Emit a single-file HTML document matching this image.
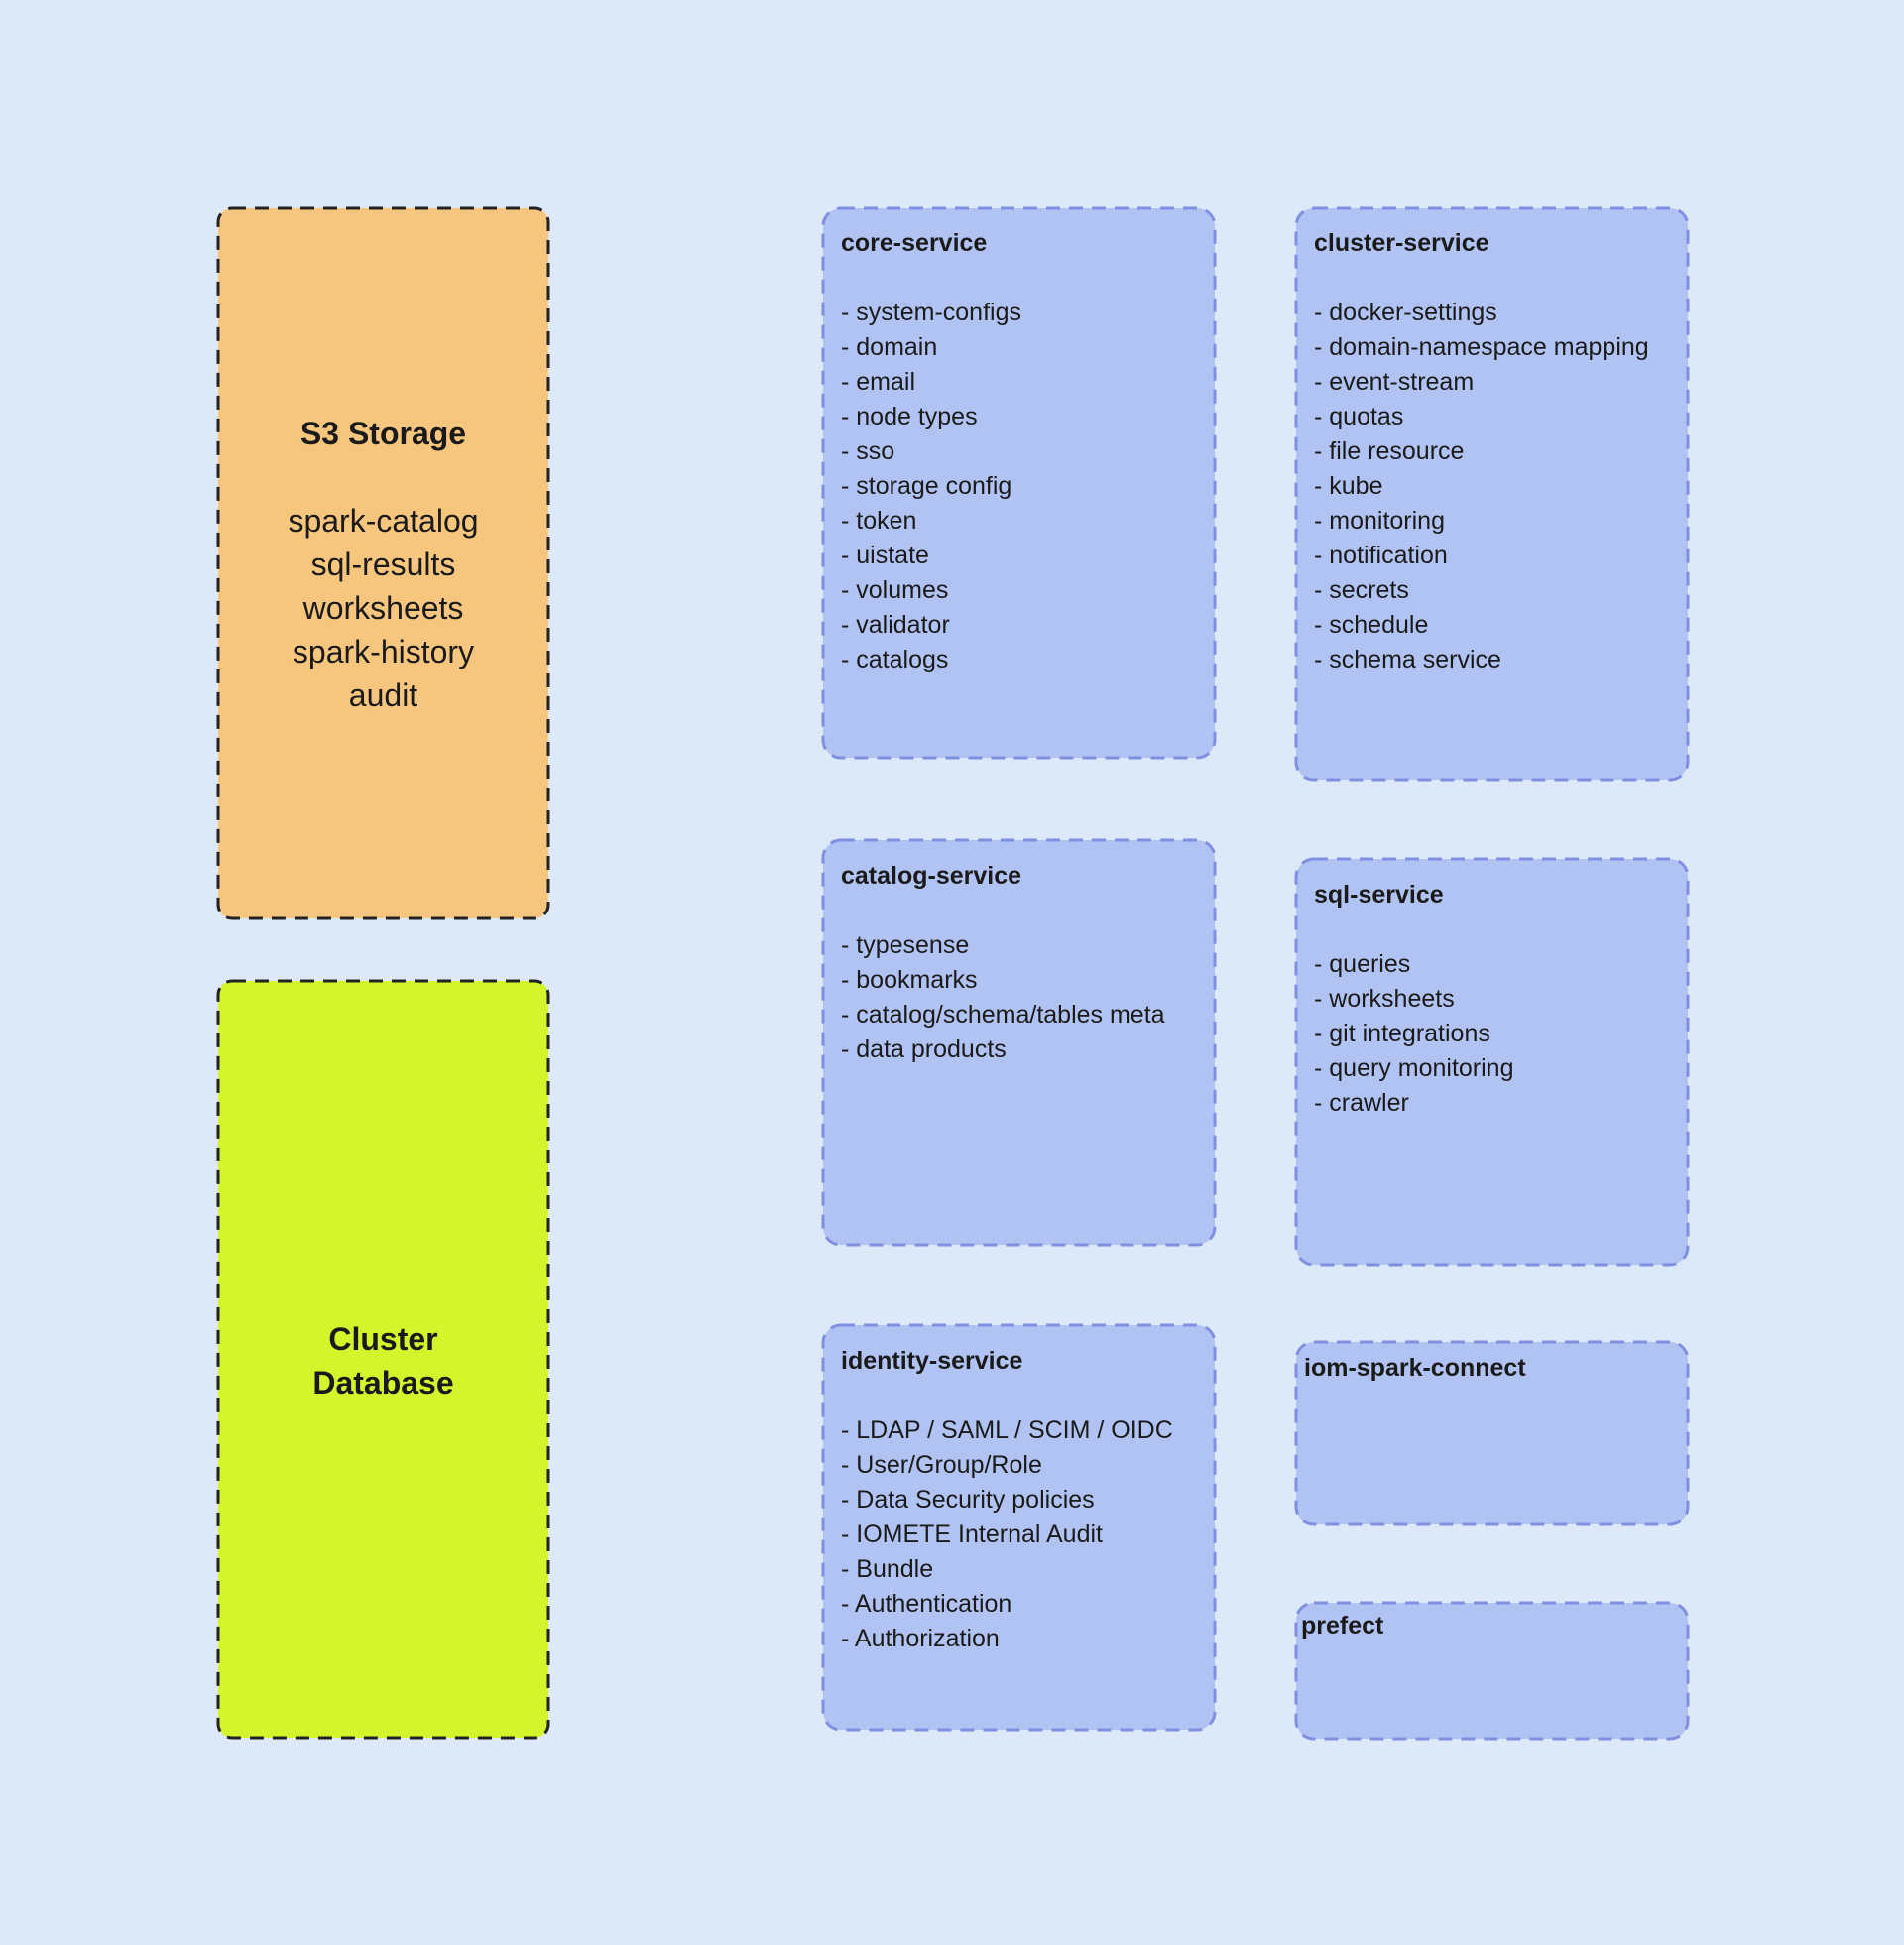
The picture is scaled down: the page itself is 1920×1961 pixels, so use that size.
<!DOCTYPE html>
<html><head><meta charset="utf-8"><style>
body{margin:0;width:1920px;height:1961px;background:#dde9f9;position:relative;overflow:hidden;font-family:"Liberation Sans","Noto Sans CJK JP",sans-serif;color:#1a1a1a}
svg{position:absolute;left:0;top:0}
.t{position:absolute;font-size:25px;line-height:35px;white-space:pre}
.t b{font-weight:bold}
.c{position:absolute;text-align:center;font-size:32px;line-height:44px}
</style></head><body>
<svg width="1920" height="1961">
<g stroke-width="3" stroke-dasharray="14 9">
<rect x="220" y="210" width="333" height="716" rx="14" fill="#f7c67e" stroke="#222"/>
<rect x="220" y="989" width="333" height="763" rx="14" fill="#d4f52c" stroke="#222"/>
<g fill="#b1c3f2" stroke="#8090e0">
<rect x="830" y="210" width="395" height="554" rx="18"/>
<rect x="1307" y="210" width="395" height="576" rx="18"/>
<rect x="830" y="847" width="395" height="408" rx="18"/>
<rect x="1307" y="866" width="395" height="409" rx="18"/>
<rect x="830" y="1336" width="395" height="408" rx="18"/>
<rect x="1307" y="1353" width="395" height="184" rx="18"/>
<rect x="1307" y="1616" width="395" height="137" rx="18"/>
</g></g></svg>
<div class="c" style="left:220px;width:333px;top:415px"><b>S3 Storage</b><br><br>spark-catalog<br>sql-results<br>worksheets<br>spark-history<br>audit</div>
<div class="c" style="left:220px;width:333px;top:1328px"><b>Cluster<br>Database</b></div>
<div class="t" style="left:848px;top:228px"><b>core-service</b>

- system-configs
- domain
- email
- node types
- sso
- storage config
- token
- uistate
- volumes
- validator
- catalogs</div>
<div class="t" style="left:1325px;top:228px"><b>cluster-service</b>

- docker-settings
- domain-namespace mapping
- event-stream
- quotas
- file resource
- kube
- monitoring
- notification
- secrets
- schedule
- schema service</div>
<div class="t" style="left:848px;top:866px"><b>catalog-service</b>

- typesense
- bookmarks
- catalog/schema/tables meta
- data products</div>
<div class="t" style="left:1325px;top:885px"><b>sql-service</b>

- queries
- worksheets
- git integrations
- query monitoring
- crawler</div>
<div class="t" style="left:848px;top:1355px"><b>identity-service</b>

- LDAP / SAML / SCIM / OIDC
- User/Group/Role
- Data Security policies
- IOMETE Internal Audit
- Bundle
- Authentication
- Authorization</div>
<div class="t" style="left:1315px;top:1362px"><b>iom-spark-connect</b></div>
<div class="t" style="left:1312px;top:1622px"><b>prefect</b></div>
</body></html>
